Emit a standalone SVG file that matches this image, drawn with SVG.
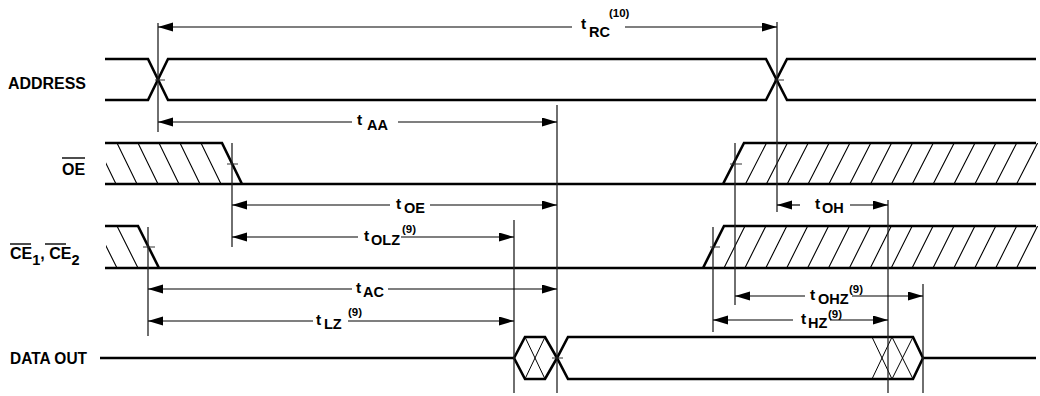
<svg xmlns="http://www.w3.org/2000/svg" width="1040" height="396" viewBox="0 0 1040 396">
<style>
.sig{fill:none;stroke:#000;stroke-width:2.6;stroke-linejoin:miter}
.thin{fill:none;stroke:#000;stroke-width:1}
.ref{fill:none;stroke:#222;stroke-width:1.3}
.tick{fill:none;stroke:#333;stroke-width:1}
.hatch{fill:none;stroke:#000;stroke-width:1.1}
.dim{fill:none;stroke:#000;stroke-width:1.2}
.ds{marker-start:url(#ah)}
.de{marker-end:url(#ah)}
text{font-family:"Liberation Sans",Arial,Helvetica,sans-serif;font-weight:bold;fill:#000}
.lab{font-size:16px}
.t{font-size:15.5px}
.s{font-size:14.5px}
.sup{font-size:11.5px}
.ovl{stroke:#000;stroke-width:1.4}
</style>
<defs>
<marker id="ah" markerUnits="userSpaceOnUse" markerWidth="16" markerHeight="10" refX="15" refY="4.5" orient="auto-start-reverse">
<path d="M0,0 L15,4.5 L0,9 z" fill="#000"/>
</marker>
<clipPath id="oeL"><polygon points="106,143 222,143 242,184 106,184"/></clipPath>
<clipPath id="oeR"><polygon points="723,184 744,143 1038,143 1038,184"/></clipPath>
<clipPath id="ceL"><polygon points="106,226 138,226 159,268 106,268"/></clipPath>
<clipPath id="ceR"><polygon points="703,268 724,226 1038,226 1038,268"/></clipPath>
</defs>
<rect width="1040" height="396" fill="#fff"/>

<g id="address">
<text class="lab" x="8" y="89" textLength="78" lengthAdjust="spacingAndGlyphs">ADDRESS</text>
<path class="sig" d="M105,59 H148 L168,100 H766 L787,59 H1036"/>
<path class="sig" d="M105,100 H148 L168,59 H766 L787,100 H1036"/>
<path class="tick" d="M155,80 H165 M774,80 H784"/>
</g>

<g id="oe">
<text class="lab" x="62" y="175">OE</text>
<line class="ovl" x1="62" y1="158" x2="85" y2="158"/>
<path class="sig" d="M105,143 H222 L242,184 M105,184 H1036 M723,184 L744,143 H1036"/>
<g clip-path="url(#oeL)" class="hatch">
<path d="M96,143 L116,184 M117,143 L137,184 M138,143 L158,184 M159,143 L179,184 M180,143 L200,184 M201,143 L221,184"/>
</g>
<g clip-path="url(#oeR)" class="hatch">
<path d="M766.5,143 L745.5,184 M787.4,143 L766.4,184 M808.2,143 L787.2,184 M829.1,143 L808.1,184 M849.9,143 L828.9,184 M870.8,143 L849.8,184 M891.6,143 L870.6,184 M912.5,143 L891.5,184 M933.3,143 L912.3,184 M954.2,143 L933.2,184 M975,143 L954,184 M995.9,143 L974.9,184 M1016.7,143 L995.7,184 M1037.6,143 L1016.6,184"/>
</g>
<path class="tick" d="M227,164 H238 M730,164 H742"/>
</g>

<g id="ce">
<text class="lab" x="10" y="259">CE<tspan class="s" dy="6">1</tspan><tspan dy="-6">, CE</tspan><tspan class="s" dy="6">2</tspan></text>
<line class="ovl" x1="10" y1="244" x2="31" y2="244"/>
<line class="ovl" x1="45" y1="244" x2="66" y2="244"/>
<path class="sig" d="M105,226 H138 L159,268 M105,268 H1036 M703,268 L724,226 H1036"/>
<g clip-path="url(#ceL)" class="hatch">
<path d="M96,226 L117,268 M117,226 L138,268"/>
</g>
<g clip-path="url(#ceR)" class="hatch">
<path d="M745,226 L724,268 M765.9,226 L744.9,268 M786.8,226 L765.8,268 M807.7,226 L786.7,268 M828.6,226 L807.6,268 M849.5,226 L828.5,268 M870.4,226 L849.4,268 M891.3,226 L870.3,268 M912.2,226 L891.2,268 M933.1,226 L912.1,268 M954,226 L933,268 M974.9,226 L953.9,268 M995.8,226 L974.8,268 M1016.7,226 L995.7,268 M1037.6,226 L1016.6,268"/>
</g>
<path class="tick" d="M143,247 H155 M710,247 H720"/>
</g>

<g id="dataout">
<text class="lab" x="10" y="364" textLength="77" lengthAdjust="spacingAndGlyphs">DATA OUT</text>
<path class="sig" d="M100,358 H514 L525,337 H545 L557,358 L568,337 H913 L923,358 H1036"/>
<path class="sig" d="M514,358 L525,379 H545 L557,358 L568,379 H913 L923,358"/>
<path class="thin" d="M525,337 L545,379 M545,337 L525,379 M872,337 L892,379 M892,337 L872,379 M892,337 L913,379 M913,337 L892,379"/>
<path class="tick" d="M552,358 H563"/>
</g>

<g id="connectors">
<g class="ref">
<line x1="158" y1="23" x2="158" y2="132"/>
<line x1="777" y1="22" x2="777" y2="212"/>
<line x1="232" y1="143" x2="232" y2="247"/>
<line x1="735" y1="143" x2="735" y2="305"/>
<line x1="148" y1="227" x2="148" y2="336"/>
<line x1="713" y1="227" x2="713" y2="332"/>
<line x1="557" y1="105" x2="557" y2="393"/>
<line x1="514" y1="220" x2="514" y2="393"/>
<line x1="888" y1="200" x2="888" y2="393"/>
<line x1="923" y1="284" x2="923" y2="393"/>
</g>
<g id="tRC">
<line class="dim ds" x1="158" y1="27" x2="572" y2="27"/>
<line class="dim de" x1="625" y1="27" x2="777" y2="27"/>
<text class="t" x="581" y="29">t</text><text class="s" x="589" y="37">RC</text><text class="sup" x="609" y="17">(10)</text>
</g>
<g id="tAA">
<line class="dim ds" x1="158" y1="122" x2="352" y2="122"/>
<line class="dim de" x1="398" y1="122" x2="557" y2="122"/>
<text class="t" x="357" y="125">t</text><text class="s" x="367" y="130">AA</text>
</g>
<g id="tOE">
<line class="dim ds" x1="232" y1="205" x2="390" y2="205"/>
<line class="dim de" x1="430" y1="205" x2="557" y2="205"/>
<text class="t" x="396" y="209">t</text><text class="s" x="404" y="213">OE</text>
</g>
<g id="tOLZ">
<line class="dim ds" x1="232" y1="237" x2="358" y2="237"/>
<line class="dim de" x1="401" y1="237" x2="514" y2="237"/>
<text class="t" x="364" y="241">t</text><text class="s" x="371" y="245">OLZ</text><text class="sup" x="402" y="233">(9)</text>
</g>
<g id="tAC">
<line class="dim ds" x1="148" y1="289" x2="352" y2="289"/>
<line class="dim de" x1="388" y1="289" x2="557" y2="289"/>
<text class="t" x="356" y="293">t</text><text class="s" x="363" y="297">AC</text>
</g>
<g id="tLZ">
<line class="dim ds" x1="148" y1="321" x2="313" y2="321"/>
<line class="dim de" x1="348" y1="321" x2="514" y2="321"/>
<text class="t" x="316" y="325">t</text><text class="s" x="324" y="329">LZ</text><text class="sup" x="348" y="316">(9)</text>
</g>
<g id="tOH">
<line class="dim ds" x1="777" y1="205" x2="800" y2="205"/>
<line class="dim de" x1="850" y1="205" x2="888" y2="205"/>
<text class="t" x="815" y="209">t</text><text class="s" x="822" y="213">OH</text>
</g>
<g id="tOHZ">
<line class="dim ds" x1="735" y1="296" x2="805" y2="296"/>
<line class="dim de" x1="852" y1="296" x2="923" y2="296"/>
<text class="t" x="810" y="300">t</text><text class="s" x="818" y="304">OHZ</text><text class="sup" x="849" y="293">(9)</text>
</g>
<g id="tHZ">
<line class="dim ds" x1="713" y1="320" x2="793" y2="320"/>
<line class="dim de" x1="830" y1="320" x2="888" y2="320"/>
<text class="t" x="801" y="324">t</text><text class="s" x="808" y="328">HZ</text><text class="sup" x="828" y="318">(9)</text>
</g>
</g>
</svg>
